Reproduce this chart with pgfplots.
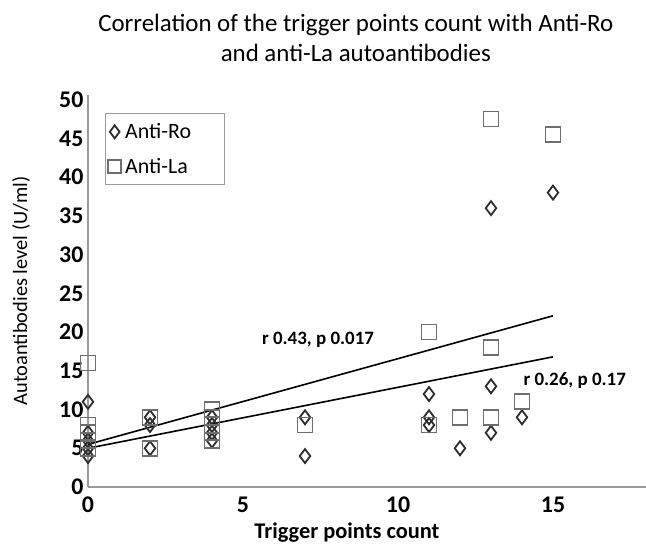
\documentclass[border=0pt]{standalone}
\usepackage{pgfplots}
\pgfplotsset{compat=1.18}
\usepackage{fontspec}
\setmainfont{Carlito}

\definecolor{rocol}{HTML}{2E2E2E}
\definecolor{lacol}{HTML}{6E6E6E}
\definecolor{axcol}{HTML}{9A9A9A}

\begin{document}
\begin{tikzpicture}
\begin{axis}[
    scale only axis,
    width=558bp, height=392bp,
    xmin=0, xmax=18, ymin=0, ymax=50.6,
    xtick={0,5,10,15}, ytick={0,5,...,50},
    axis lines=left,
    axis line style={-, draw=axcol, line width=1.6bp},
    major tick length=0pt,
    tick label style={font=\fontsize{24}{28}\selectfont\bfseries},
    /pgf/number format/assume math mode=true,
    xticklabel style={yshift=-6bp},
    yticklabel style={xshift=-1bp},
    clip=false,
    legend cell align=left,
    legend image post style={mark size=6.5bp},
    legend style={at={(0.03,0.954)}, anchor=north west,
        draw=axcol, line width=1bp,
        font=\fontsize{22}{26}\selectfont,
        inner xsep=3bp, inner ysep=8bp,
        row sep=14bp, column sep=2bp},
]
% Anti-Ro
\addplot[only marks, mark=diamond, mark size=7bp,
    mark options={draw=rocol, line width=1.8bp, fill=none}]
    coordinates {
    (0,11) (0,7) (0,6) (0,5) (0,4)
    (2,9) (2,8) (2,5)
    (4,9) (4,8) (4,7) (4,6)
    (7,9) (7,4)
    (11,12) (11,9) (11,8)
    (12,5)
    (13,36) (13,13) (13,7)
    (14,9)
    (15,38)
    };
\addlegendentry{Anti-Ro\hspace{28bp}\mbox{}}
% Anti-La
\addplot[only marks, mark=square, mark size=7.5bp,
    mark options={draw=lacol, line width=1.8bp, fill=none}]
    coordinates {
    (0,16) (0,8) (0,7) (0,6) (0,5)
    (2,9) (2,5)
    (4,10) (4,9) (4,8) (4,7) (4,6)
    (7,8)
    (11,20) (11,8)
    (12,9)
    (13,47.5) (13,18) (13,9)
    (14,11)
    (15,45.5)
    };
\addlegendentry{Anti-La}
% trend lines
\addplot[black, line width=1.6bp, forget plot] coordinates {(0,5.5) (15,22.1)};
\addplot[black, line width=1.6bp, forget plot] coordinates {(0,5.0) (15,16.8)};

\node[font=\fontsize{19}{22}\selectfont\bfseries] at (axis cs:7.42,19.0) {r 0.43, p 0.017};
\node[font=\fontsize{19}{22}\selectfont\bfseries] at (axis cs:15.7,13.8) {r 0.26, p 0.17};

% axis labels and title
\node[font=\fontsize{22.5}{26}\selectfont\bfseries, anchor=base]
    at ([yshift=-51bp]rel axis cs:0.464,0) {Trigger points count};
\node[font=\fontsize{20.5}{24}\selectfont, xshift=-67bp, rotate=90]
    at (rel axis cs:0,0.5) {Autoantibodies level (U/ml)};
\node[font=\fontsize{25}{30}\selectfont, align=center, anchor=south]
    at ([yshift=30bp]rel axis cs:0.48,1) {Correlation of the trigger points count with Anti-Ro\\and anti-La autoantibodies};
\end{axis}
\pgfresetboundingbox
\path[use as bounding box] ([xshift=-88bp,yshift=-59bp]current axis.south west) rectangle ([yshift=95bp]current axis.north east);
\end{tikzpicture}
\end{document}
